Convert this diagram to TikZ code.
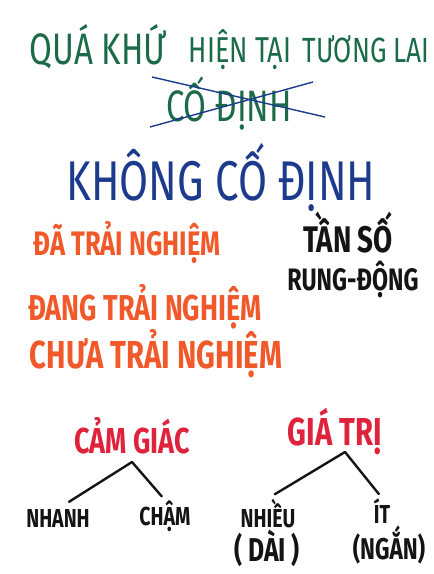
\documentclass[tikz,border=0pt]{standalone}
\usepackage{fontspec}
\newfontfamily\hand[FakeStretch=0.75]{Fira Sans}
\usetikzlibrary{positioning}
\usepackage{xcolor}
\definecolor{xanhla}{HTML}{1B6B48}
\definecolor{xanhbien}{HTML}{1D3B8C}
\definecolor{cam}{HTML}{F2592A}
\definecolor{do}{HTML}{E0233D}
\definecolor{den}{HTML}{141414}

\begin{document}
\begin{tikzpicture}[x=1pt,y=-1pt,every node/.style={anchor=base,inner sep=0pt}]
            \tikzset{thoigian/.style={text=xanhla,font=\hand\fontsize{36}{36}\selectfont},
                     nhanbien/.style={text=xanhbien,font=\hand\fontsize{56}{56}\selectfont},
                     trainghiem/.style={text=cam,font=\hand\bfseries\fontsize{36}{36}\selectfont},
                     tanso/.style={text=den,font=\hand\bfseries\fontsize{32}{32}\selectfont},
                     tieude/.style={text=do,font=\hand\bfseries\fontsize{36}{36}\selectfont},
                     nhanh/.style={text=den,font=\hand\bfseries\fontsize{26}{26}\selectfont},
                     gach/.style={draw=xanhbien,line width=1.4pt},
                     canh/.style={draw=den,line width=2.4pt,line cap=round}}
            \fill[white] (0,0) rectangle (434,574);
            \useasboundingbox (0,0) rectangle (434,574);
            % qua khu - hien tai - tuong lai
            \node[thoigian,font=\hand\fontsize{44}{44}\selectfont] (qk) at (98,64) {QUÁ KHỨ};
            \node[thoigian] (ht) at (240,62) {HIỆN TẠI};
            \node[thoigian,font=\hand\fontsize{35}{35}\selectfont] (tl) at (366,62) {TƯƠNG LAI};
            \node[thoigian,font=\hand\fontsize{44}{44}\selectfont] (cd) at (229,121) {CỐ ĐỊNH};
            \coordinate (g1a) at (152,77);  \coordinate (g1b) at (325,117);
            \coordinate (g2a) at (150,127); \coordinate (g2b) at (313,82);
            \draw[gach] (g1a) -- (g1b);
            \draw[gach] (g2a) -- (g2b);
            \node[nhanbien] (kcd) at (221,200) {KHÔNG CỐ ĐỊNH};
            % trai nghiem
            \node[trainghiem,font=\hand\bfseries\fontsize{34}{34}\selectfont] (da) at (127,255) {ĐÃ TRẢI NGHIỆM};
            \node[trainghiem] (dang) at (145,320) {ĐANG TRẢI NGHIỆM};
            \node[trainghiem,font=\hand\bfseries\fontsize{39}{39}\selectfont] (chua) at (156,368) {CHƯA TRẢI NGHIỆM};
            \node[tanso,font=\hand\bfseries\fontsize{37}{37}\selectfont] (ts) at (348,252) {TẦN SỐ};
            \node[tanso,font=\hand\bfseries\fontsize{31}{31}\selectfont] (rd) at (353,290) {RUNG-ĐỘNG};
            % cam giac
            \node[tieude] (cg) at (132,453) {CẢM GIÁC};
            \node[nhanh] (nh) at (58,527) {NHANH};
            \node[nhanh] (ch) at (165,525) {CHẬM};
            \coordinate (cggoc) at (132,462);
            \draw[canh,shorten >=13pt] (cggoc) -- (nh.north);
            \draw[canh,shorten >=5pt] (cggoc) -- (ch.north);
            % gia tri
            \node[tieude,font=\hand\bfseries\fontsize{39}{39}\selectfont] (gt) at (335,445) {GIÁ TRỊ};
            \node[nhanh] (nhieu) at (268,527) {NHIỀU};
            \node[nhanh,font=\hand\bfseries\fontsize{33}{33}\selectfont] (dai) at (267,561) {(~DÀI~)};
            \node[nhanh] (it) at (382,523) {ÍT};
            \node[nhanh,font=\hand\bfseries\fontsize{30}{30}\selectfont] (ngan) at (389,559) {(NGẮN)};
            \coordinate (gtgoc) at (345,452);
            \draw[canh,shorten >=8pt] (gtgoc) -- (nhieu.north);
            \draw[canh,shorten >=5pt] (gtgoc) -- (it.north);
\end{tikzpicture}
\end{document}
